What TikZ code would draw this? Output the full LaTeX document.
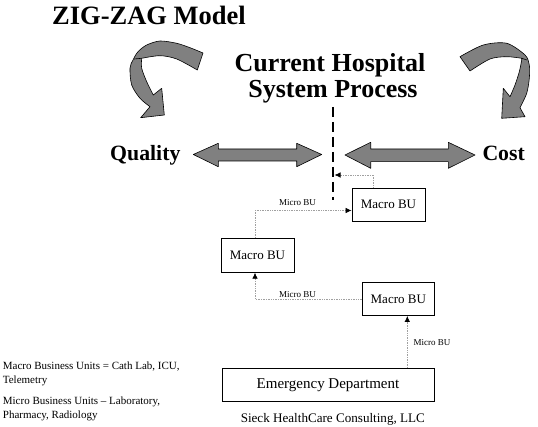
\documentclass[tikz,border=0pt]{standalone}
\usepackage{fontspec}
\setmainfont{Liberation Serif}
\usetikzlibrary{arrows.meta}
\definecolor{bandgray}{RGB}{128,128,128}
\definecolor{linkgray}{RGB}{160,160,160}
\tikzset{
  band/.style={fill=bandgray, draw=black, line width=0.6pt, line join=round},
  box/.style={draw=black, line width=0.8pt, inner sep=0pt, font=\fontsize{13}{15}\selectfont},
  link/.style={draw=linkgray, line width=0.7pt, densely dotted, -{Latex[length=6pt,width=5.5pt,color=black]}},
  lbl/.style={inner sep=0pt, font=\fontsize{9}{10}\selectfont},
  bigtitle/.style={inner sep=0pt, font=\fontsize{26.5}{30}\selectfont\bfseries},
  midtitle/.style={inner sep=0pt, font=\fontsize{26}{30}\selectfont\bfseries},
  side/.style={inner sep=0pt, font=\fontsize{21.8}{24}\selectfont\bfseries},
  legend/.style={inner sep=0pt, anchor=base west, font=\fontsize{11}{13}\selectfont},
  divider/.style={line width=1.8pt, dash pattern=on 10pt off 5pt}
}
\begin{document}
\begin{tikzpicture}[x=1pt,y=-1pt]
\useasboundingbox (0,0) rectangle (538,427);

% titles
\node[bigtitle, anchor=base west] (title) at (52,25) {ZIG-ZAG Model};
\node[midtitle, anchor=base] (cur1) at (330,71.4) {Current Hospital};
\node[midtitle, anchor=base] (cur2) at (333,97.2) {System Process};
\node[side, anchor=base west] (quality) at (110,160.7) {Quality};
\node[side, anchor=base west] (cost) at (482.3,160.7) {Cost};

% left curved arrow
\path[band] (203,53) -- plot[smooth] coordinates {(203,53) (190,47.7) (176.7,43.3) (160,41) (146.7,45) (138,51.7) (133,60) (130,68) (131.7,85) (140,98.3) (150,106.7)}
  -- (140.7,117.7) -- (164.3,115) -- (161.7,88.3) -- (153.3,95)
  -- plot[smooth] coordinates {(153.3,95) (146.7,81.7) (141.7,68.3) (141.7,58.3)}
  -- plot[smooth] coordinates {(141.7,58.3) (160,55.7) (176.7,59) (197.3,70)} -- cycle;
\draw[line width=0.6pt] (141.7,58.3) -- (134,59);

% right curved arrow
\path[band] (460,56.7) -- plot[smooth] coordinates {(460,56.7) (483.3,45) (506.7,43.3) (525,55) (529.3,65) (529.3,78.3) (526.7,93.3) (520,107.7)}
  -- (525,116.7) -- (501.7,118.3) -- (503.3,88.3) -- (510,96.7)
  -- plot[smooth] coordinates {(510,96.7) (515,85) (519.3,71.7) (521.7,60) (521.7,58.3)}
  -- plot[smooth] coordinates {(521.7,58.3) (506.7,56.7) (490,59) (470,71)} -- cycle;
\draw[line width=0.6pt] (521.7,58.3) -- (527,60);

% double arrows
\path[band] (193.3,154.5) -- (218.3,143.3) -- (218.3,149) -- (296.7,149) -- (296.7,143.3)
  -- (321.7,154.5) -- (296.7,166.7) -- (296.7,161) -- (218.3,161) -- (218.3,166.7) -- cycle;
\path[band] (345,155) -- (370.7,142.3) -- (370.7,149) -- (448.3,149) -- (448.3,142.3)
  -- (475,155) -- (448.3,168.3) -- (448.3,161.7) -- (370.7,161.7) -- (370.7,168.3) -- cycle;

% dashed divider
\coordinate (dtop) at (333,107);
\coordinate (dbot) at (333,200);
\coordinate (dhit) at (334.5,175);
\draw[divider] (dtop) -- (dbot);

% boxes
\node[box, minimum width=73pt, minimum height=33pt] (A) at (388.5,204.5) {Macro BU};
\node[box, minimum width=73pt, minimum height=34pt] (B) at (257.5,255.3) {Macro BU};
\node[box, minimum width=72pt, minimum height=33pt] (C) at (398.3,299) {Macro BU};
\node[box, minimum width=212pt, minimum height=33.5pt, font=\fontsize{15}{17}\selectfont] (ED) at (328,385) {Emergency Department};

% connectors
\draw[link] ([xshift=79.3pt]ED.north) -- ([xshift=79.3pt]ED.north |- C.south);
\draw[link] (C.west) -| ([xshift=-2.5pt]B.south);
\draw[link] ([xshift=-2.5pt]B.north) |- ([yshift=-6pt]A.west);
\draw[link] ([xshift=-15pt]A.north) |- (dhit);

\node[lbl] (m1) at (297.5,202.7) {Micro BU};
\node[lbl] (m2) at (297.5,295) {Micro BU};
\node[lbl, anchor=west] (m3) at (413.3,343) {Micro BU};

% footer and legend
\node[inner sep=0pt, anchor=base, font=\fontsize{13.1}{15}\selectfont] (sieck) at (332.8,422) {Sieck HealthCare Consulting, LLC};
\node[legend] (l1) at (2.7,370) {Macro Business Units = Cath Lab, ICU,};
\node[legend] (l2) at (2.7,383.5) {Telemetry};
\node[legend] (l3) at (2.7,404.5) {Micro Business Units -- Laboratory,};
\node[legend] (l4) at (2.7,418.3) {Pharmacy, Radiology};
\end{tikzpicture}
\end{document}
